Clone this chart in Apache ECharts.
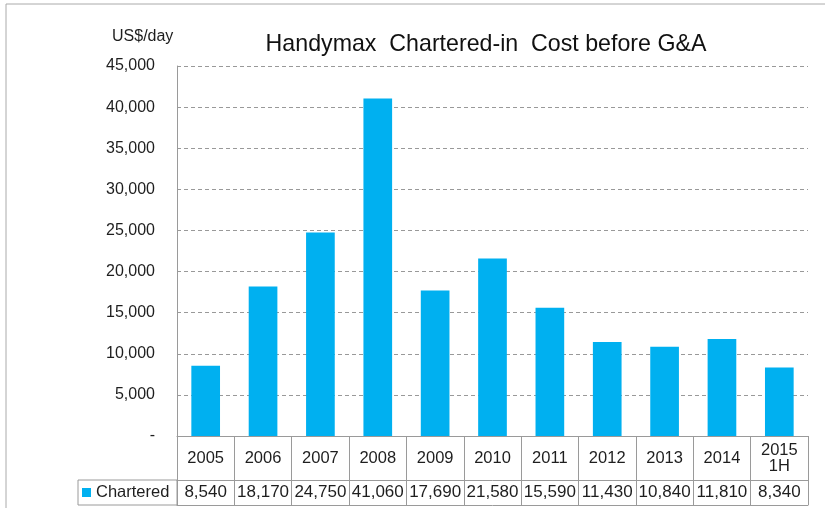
<!DOCTYPE html>
<html>
<head>
<meta charset="utf-8">
<script src="https://cdn.jsdelivr.net/npm/echarts@6/dist/echarts.min.js"></script>
<style>
html,body{margin:0;padding:0;background:#fff;}
#c{width:825px;height:508px;}
</style>
</head>
<body>
<div id="c"></div>
<script>
var categories = ['2005','2006','2007','2008','2009','2010','2011','2012','2013','2014','2015\n1H'];
var charteredValues = [8540,18170,24750,41060,17690,21580,15590,11430,10840,11810,8340];
var seriesName = 'Chartered';
var titleText = 'Handymax  Chartered-in  Cost before G&A';
var unitText = 'US$/day';

function fmt(v){ return v === 0 ? '-' : v.toLocaleString('en-US'); }

var FONT = 'Liberation Sans, Arial, sans-serif';
var lineColor = '#9a9a9a';
var txt = '#1e1e1e';

var chart = echarts.init(document.getElementById('c'));
chart.setOption({
  animation: false,
  title: {
    text: titleText,
    left: 486, top: 28, textAlign: 'center',
    textStyle: {fontFamily: FONT, fontSize: 23.2, fontWeight: 'normal', color: '#111'}
  },
  legend: {
    data: [seriesName],
    left: 82, top: 484, padding: 0,
    icon: 'rect', itemWidth: 9, itemHeight: 9,
    textStyle: {fontFamily: FONT, fontSize: 16.5, color: txt}
  },
  grid: {left: 177, right: 17, top: 66, bottom: 72},
  graphic: [
    {type: 'rect', shape: {x: 6, y: 4, width: 840, height: 530}, style: {fill: null, stroke: '#aaa', lineWidth: 1}, silent: true},
    {type: 'rect', shape: {x: 78, y: 480, width: 99, height: 25}, style: {fill: null, stroke: lineColor, lineWidth: 1}, silent: true},
    {type: 'text', left: 112, top: 29, style: {text: unitText, fontFamily: FONT, fontSize: 16, fill: txt}}
  ],
  xAxis: [
    {
      type: 'category', data: categories, position: 'bottom',
      axisLine: {show: true, lineStyle: {color: lineColor, width: 1}},
      axisTick: {show: true, alignWithLabel: false, length: 69, lineStyle: {color: lineColor}},
      axisLabel: {interval: 0, margin: 22, verticalAlign: 'middle', fontFamily: FONT, fontSize: 16.5, color: txt, lineHeight: 16}
    },
    {
      type: 'category', data: charteredValues.map(fmt), position: 'bottom', offset: 44,
      axisLine: {show: true, lineStyle: {color: lineColor, width: 1}},
      axisTick: {show: false},
      axisLabel: {interval: 0, margin: 12.5, verticalAlign: 'middle', fontFamily: FONT, fontSize: 17, color: txt}
    },
    {
      type: 'category', data: categories, position: 'bottom', offset: 69,
      axisLine: {show: true, lineStyle: {color: lineColor, width: 1}},
      axisTick: {show: false},
      axisLabel: {show: false}
    }
  ],
  yAxis: {
    type: 'value', min: 0, max: 45000, interval: 5000,
    axisLine: {show: true, lineStyle: {color: lineColor, width: 1}},
    axisTick: {show: false},
    axisLabel: {margin: 22, fontFamily: FONT, fontSize: 16, color: txt, formatter: fmt},
    splitLine: {show: true, lineStyle: {color: '#999', type: [4, 3], width: 1}}
  },
  series: [{
    name: seriesName, type: 'bar', data: charteredValues,
    barWidth: '50%',
    itemStyle: {color: '#00B0F0'}
  }]
});
chart.setOption({title: {left: 481}});
</script>
</body>
</html>
